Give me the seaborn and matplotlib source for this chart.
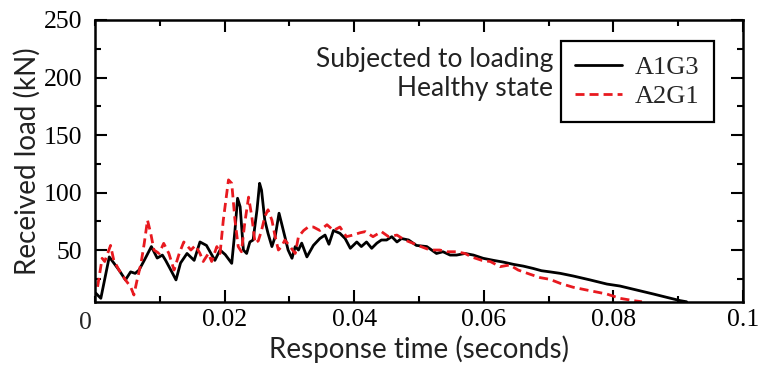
import numpy as np
import pandas as pd
import matplotlib
matplotlib.use("Agg")
import matplotlib.pyplot as plt
import seaborn as sns
from matplotlib.ticker import MultipleLocator

# ---- data ----
t_a1g3 = [0.0001, 0.0009, 0.0022, 0.0029, 0.0037, 0.0047, 0.0055, 0.0062, 0.0068, 0.0076,
          0.0087, 0.0096, 0.0104, 0.0109, 0.0117, 0.0125, 0.0132, 0.0142, 0.0153, 0.0162,
          0.0172, 0.0185, 0.0193, 0.0201, 0.0211, 0.0216, 0.0220, 0.0224, 0.0229, 0.0234,
          0.0239, 0.0244, 0.0250, 0.0254, 0.0257, 0.0262, 0.0267, 0.0273, 0.0278, 0.0284,
          0.0288, 0.0293, 0.0298, 0.0304, 0.0309, 0.0314, 0.0319, 0.0327, 0.0337, 0.0347,
          0.0355, 0.0361, 0.0368, 0.0378, 0.0386, 0.0394, 0.0404, 0.0411, 0.0419, 0.0427,
          0.0435, 0.0442, 0.0450, 0.0458, 0.0466, 0.0473, 0.0484, 0.0496, 0.0512, 0.0527,
          0.0537, 0.0548, 0.0558, 0.0571, 0.0584, 0.0599, 0.0615, 0.0630, 0.0646, 0.0661,
          0.0676, 0.0689, 0.0702, 0.0718, 0.0738, 0.0764, 0.0790, 0.0810, 0.0836, 0.0862,
          0.0882, 0.0903, 0.0913]
load_a1g3 = [12.6, 8, 44, 38.7, 32.6, 24, 31, 29.7, 32.6, 41,
             53, 43, 45.6, 41, 32.6, 24, 38.7, 47, 41, 57,
             54, 41, 50, 46, 38.4, 67, 95, 87.6, 50, 47,
             57, 58.7, 85, 108, 102, 76, 64.5, 53, 61.6, 82,
             73, 61.6, 50, 42.8, 53, 50, 56, 44, 54, 60,
             63, 55, 67, 64.5, 60, 51.5, 57, 53, 57, 51.5,
             56, 58.7, 58.7, 61.6, 57, 60, 58.7, 54, 53, 47,
             48.5, 45.6, 45.6, 47, 45.6, 42.8, 41, 39.5, 37.5, 36,
             34, 32, 31, 29.7, 27.4, 24, 20.4, 18.7, 15.2, 11.7,
             8.9, 6, 5]

t_a2g1 = [0.0004, 0.0011, 0.0015, 0.0024, 0.0029, 0.0037, 0.0047, 0.0055, 0.0060, 0.0065,
          0.0071, 0.0076, 0.0081, 0.0086, 0.0091, 0.0099, 0.0106, 0.0114, 0.0122, 0.0130,
          0.0137, 0.0148, 0.0155, 0.0162, 0.0167, 0.0175, 0.0180, 0.0188, 0.0193, 0.0198,
          0.0206, 0.0211, 0.0216, 0.0221, 0.0226, 0.0231, 0.0237, 0.0242, 0.0247, 0.0252,
          0.0257, 0.0262, 0.0267, 0.0273, 0.0278, 0.0283, 0.0288, 0.0293, 0.0301, 0.0309,
          0.0314, 0.0322, 0.0329, 0.0337, 0.0347, 0.0358, 0.0368, 0.0378, 0.0388, 0.0398,
          0.0409, 0.0417, 0.0429, 0.0442, 0.0453, 0.0466, 0.0478, 0.0491, 0.0503, 0.0517,
          0.0532, 0.0543, 0.0558, 0.0571, 0.0581, 0.0597, 0.0610, 0.0625, 0.0640, 0.0653,
          0.0671, 0.0687, 0.0702, 0.0718, 0.0738, 0.0764, 0.0790, 0.0810, 0.0831, 0.0844]
load_a2g1 = [18, 42.8, 40, 54, 41, 32.6, 24, 18, 10.9, 24,
             38.4, 55.8, 76, 64.5, 50, 47, 55.8, 47, 32.6, 47,
             57, 50, 54, 47, 40, 47, 40, 53, 47, 76,
             111, 108, 76, 53, 48.5, 73, 96, 79, 56, 58,
             67, 79, 85, 76, 61.6, 50, 53, 58.7, 53, 47,
             61.6, 67, 70, 70, 67, 72, 67, 70, 61.6, 63,
             65, 66, 61.6, 66, 61.6, 63, 58.7, 55.8, 53, 50,
             50, 48.5, 48.5, 47, 44, 41, 40, 35.5, 37, 32.6,
             29, 26, 24.5, 21, 17.6, 14.6, 11.7, 8, 6, 5]

x_ticks = [0.02, 0.04, 0.06, 0.08, 0.1]
x_tick_labels = ["0.02", "0.04", "0.06", "0.08", "0.1"]
y_ticks = [50, 100, 150, 200, 250]
y_tick_labels = ["50", "100", "150", "200", "250"]
series_labels = ["A1G3", "A2G1"]
state_labels = ["Subjected to loading", "Healthy state"]

# ---- style ----
sns.set_style("ticks")
plt.rcParams["font.family"] = ["Liberation Serif", "DejaVu Serif"]
plt.rcParams["lines.scale_dashes"] = False

fig = plt.figure(figsize=(7.58, 3.75), dpi=100)
ax = fig.add_axes([95 / 758, 1 - 302 / 375, 648 / 758, 282 / 375])

df_a = pd.DataFrame({"t": t_a1g3, "load": load_a1g3})
df_b = pd.DataFrame({"t": t_a2g1, "load": load_a2g1})

sns.lineplot(data=df_a, x="t", y="load", ax=ax, color="black", linewidth=2.0,
             label=series_labels[0], sort=False, estimator=None)
sns.lineplot(data=df_b, x="t", y="load", ax=ax, color="#e8191f", linewidth=2.0,
             linestyle=(0, (6.5, 3.6)), label=series_labels[1], sort=False, estimator=None)

ax.set_xlim(0, 0.1)
ax.set_ylim(4.8, 250)
ax.set_xticks(x_ticks)
ax.set_xticklabels(x_tick_labels)
ax.set_yticks(y_ticks)
ax.set_yticklabels(y_tick_labels)
ax.xaxis.set_minor_locator(MultipleLocator(0.01))
ax.yaxis.set_minor_locator(MultipleLocator(25))
ax.tick_params(which="both", direction="in", top=True, right=True, width=1.5, colors="black")
ax.tick_params(which="major", length=8.5, labelsize=18.5)
ax.tick_params(axis="x", which="major", pad=5)
ax.tick_params(axis="y", which="major", pad=9)
ax.tick_params(which="minor", length=4.5)
for s in ax.spines.values():
    s.set_linewidth(1.8)
    s.set_color("black")

# shared origin label
ax.text(-0.015, -0.035, "0", transform=ax.transAxes, fontsize=18.5, ha="center", va="top")

ax.set_xlabel("Response time (seconds)", fontfamily="Lato", fontsize=20, labelpad=3, color="#222222")
ax.set_ylabel("Received load (kN)", fontfamily="Lato", fontsize=20, labelpad=2, color="#222222")

leg = ax.legend(loc="upper left", bbox_to_anchor=(0.719, 0.925), fontsize=19, frameon=True,
                fancybox=False, edgecolor="black", framealpha=1, borderpad=0.55,
                handlelength=1.75, handletextpad=0.5, labelspacing=0.2, borderaxespad=0)
leg.get_frame().set_linewidth(1.6)

ax.text(0.707, 0.833, state_labels[0], transform=ax.transAxes, ha="right", va="baseline",
        fontfamily="Lato", fontsize=19, color="#222222")
ax.text(0.707, 0.73, state_labels[1], transform=ax.transAxes, ha="right", va="baseline",
        fontfamily="Lato", fontsize=19, color="#222222")

fig.savefig("out.png", dpi=100)
